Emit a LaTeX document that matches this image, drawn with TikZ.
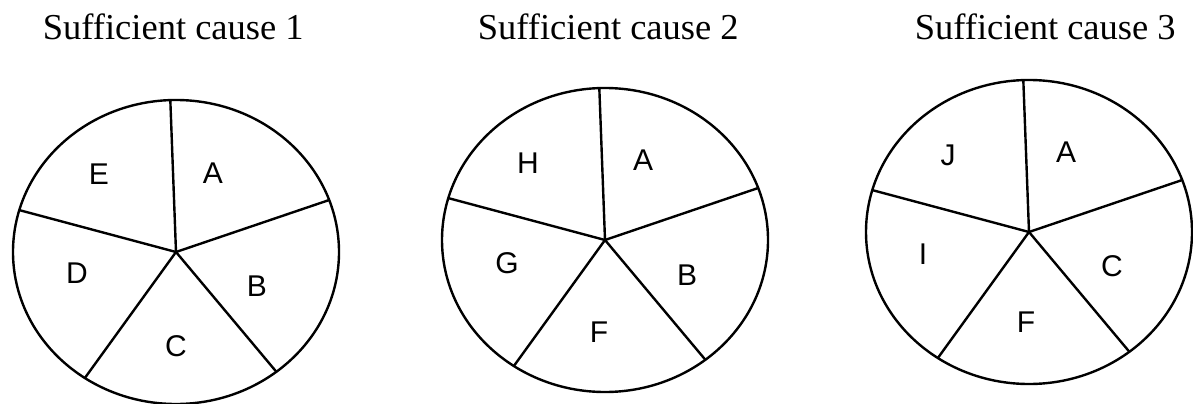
\documentclass[tikz,border=0pt]{standalone}
\usepackage{fontspec}
\setmainfont{Liberation Serif}
\newfontfamily\partfont{Liberation Sans}
\begin{document}
\begin{tikzpicture}[x = 0.5pt, y = 0.5pt, line width = 1.2pt,
    title/.style = {anchor = base west, font = \fontsize{18.25}{22}\selectfont},
    part/.style = {font = \partfont\fontsize{15}{17}\selectfont}]
    \useasboundingbox (0,0) rectangle (1193,403);
    % centres of the three pies
    \coordinate (c1) at (176,151);
    \coordinate (c2) at (605,163);
    \coordinate (c3) at (1029,171);
    \foreach \c in {c1, c2, c3} {
        \draw (\c) ellipse [x radius = 163, y radius = 152];
        \foreach \a in {92, 20, -52, -124, 164}
            \draw (\c) -- ++(\a:163 and 152);
    }
    \node[title] (t1) at (35,364) {Sufficient cause 1};
    \node[title] (t2) at (470,364) {Sufficient cause 2};
    \node[title] (t3) at (907,364) {Sufficient cause 3};
    % cause 1
    \node[part] (e1) at (99,229) {E};
    \node[part] (a1) at (213,230) {A};
    \node[part] (d1) at (77,130) {D};
    \node[part] (b1) at (257,117) {B};
    \node[part] (cc1) at (176,57) {C};
    % cause 2
    \node[part] (h2) at (528,240) {H};
    \node[part] (a2) at (643,243) {A};
    \node[part] (g2) at (507,140) {G};
    \node[part] (b2) at (687,128) {B};
    \node[part] (f2) at (599,71) {F};
    % cause 3
    \node[part] (j3) at (948,248) {J};
    \node[part] (a3) at (1066,251) {A};
    \node[part] (i3) at (923,149) {I};
    \node[part] (cc3) at (1112,137) {C};
    \node[part] (f3) at (1026,81) {F};
    %\draw[dotted] (0,0) rectangle (1193,403);
\end{tikzpicture}
\end{document}
